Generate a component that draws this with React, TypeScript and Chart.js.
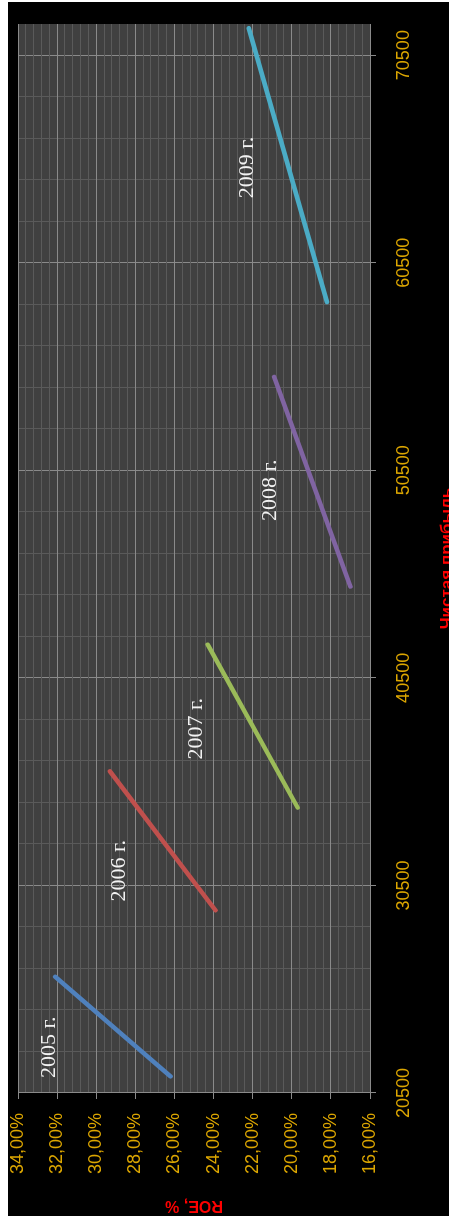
import React, { useEffect, useRef } from "react";
import { Chart, registerables } from "chart.js";

Chart.register(...registerables);

// Each year is drawn as a short line: ROE against net profit
const YEARS = ["2005 г.", "2006 г.", "2007 г.", "2008 г.", "2009 г."];
const PROFIT_FROM = [21300, 29300, 34250, 44900, 58600];
const ROE_FROM = [26.2, 23.9, 19.7, 17.0, 18.2];
const PROFIT_TO = [26100, 36000, 42100, 55000, 71800];
const ROE_TO = [32.1, 29.3, 24.3, 20.9, 22.2];

// Where each year's caption sits, in axis units (left edge, middle)
const CAPTION_PROFIT = [21220, 29720, 36570, 48060, 63600];
const CAPTION_ROE = [32.4, 28.8, 24.9, 21.1, 22.3];

// Axis ticks
const PROFIT_MAJOR = [20500, 30500, 40500, 50500, 60500, 70500];
const ROE_MAJOR = [16, 18, 20, 22, 24, 26, 28, 30, 32, 34];
const MINOR_PER_MAJOR = 5;

const X_TITLE = "Чистая прибыль";
const Y_TITLE = "ROE, %";

const LINE_COLORS = ["#4F81BD", "#C0504D", "#9BBB59", "#8064A2", "#4BACC6"];
const GOLD = "#dca600";
const RED = "#ff0000";
const PLOT_BG = "#404040";
const MAJOR_GRID = "rgb(138,138,138)";
const MINOR_GRID = "rgb(90,90,90)";

const CANVAS_W = 1214;
const CANVAS_H = 460;

function withMinor(major: number[]): number[] {
  const out: number[] = [];
  for (let i = 0; i < major.length - 1; i++) {
    const step = (major[i + 1] - major[i]) / MINOR_PER_MAJOR;
    for (let k = 0; k < MINOR_PER_MAJOR; k++) {
      out.push(Math.round((major[i] + step * k) * 1000) / 1000);
    }
  }
  out.push(major[major.length - 1]);
  return out;
}

const isMajorOf = (list: number[]) => (v: number) =>
  list.some((m) => Math.abs(m - v) < 1e-6);
const isProfitMajor = isMajorOf(PROFIT_MAJOR);
const isRoeMajor = isMajorOf(ROE_MAJOR);

const chrome = {
  id: "chrome",
  beforeDraw(chart: any) {
    const { ctx, chartArea: a } = chart;
    ctx.save();
    ctx.fillStyle = "#000";
    ctx.fillRect(0, 0, chart.width, chart.height);
    ctx.fillStyle = PLOT_BG;
    ctx.fillRect(a.left, a.top, a.right - a.left, a.bottom - a.top);
    ctx.restore();
  },
  afterDatasetsDraw(chart: any) {
    const { ctx } = chart;
    const xs = chart.scales.x;
    const ys = chart.scales.y;
    ctx.save();
    ctx.fillStyle = "#f2f2f2";
    ctx.font = '22px "Liberation Serif"';
    ctx.textAlign = "left";
    ctx.textBaseline = "middle";
    YEARS.forEach((t, i) => {
      ctx.fillText(
        t,
        xs.getPixelForValue(CAPTION_PROFIT[i]),
        ys.getPixelForValue(CAPTION_ROE[i])
      );
    });
    ctx.restore();
  },
  afterDraw(chart: any) {
    const { ctx, chartArea: a } = chart;
    ctx.save();
    ctx.fillStyle = RED;
    ctx.font = 'bold 16px "Liberation Sans"';
    ctx.textAlign = "center";
    ctx.textBaseline = "middle";
    ctx.translate(10.5, (a.top + a.bottom) / 2);
    ctx.rotate(-Math.PI / 2);
    ctx.fillText(Y_TITLE, 0, 0);
    ctx.restore();

    ctx.save();
    ctx.fillStyle = RED;
    ctx.font = 'bold 17px "Liberation Sans"';
    ctx.textAlign = "center";
    ctx.textBaseline = "alphabetic";
    ctx.fillText(X_TITLE, (a.left + a.right) / 2, 444);
    ctx.restore();
  },
};

export default function App() {
  const ref = useRef<HTMLCanvasElement | null>(null);

  useEffect(() => {
    if (!ref.current) return;

    const datasets: any[] = [];
    YEARS.forEach((year, i) => {
      const pts = [
        { x: PROFIT_FROM[i], y: ROE_FROM[i] },
        { x: PROFIT_TO[i], y: ROE_TO[i] },
      ];
      datasets.push({
        label: year,
        data: pts,
        showLine: true,
        borderColor: LINE_COLORS[i],
        backgroundColor: LINE_COLORS[i],
        borderWidth: 4.5,
        borderCapStyle: "round",
        pointRadius: 0,
      });
      // light speckle running along the stroke
      datasets.push({
        label: year + " ·",
        data: pts,
        showLine: true,
        borderColor: "rgba(255,255,255,0.35)",
        borderWidth: 1.5,
        borderDash: [1.5, 3],
        pointRadius: 0,
      });
    });

    const xTicks = withMinor(PROFIT_MAJOR);
    const yTicks = withMinor(ROE_MAJOR);

    const chart = new Chart(ref.current, {
      type: "scatter",
      data: { datasets },
      plugins: [chrome],
      options: {
        responsive: false,
        animation: false,
        devicePixelRatio: 1,
        layout: { padding: { top: 10, right: 22, left: 0, bottom: 0 } },
        plugins: {
          legend: { display: false },
          tooltip: { enabled: false },
        },
        scales: {
          x: {
            type: "linear",
            position: "bottom",
            min: 20500,
            max: 72000,
            afterBuildTicks: (s: any) => {
              s.ticks = xTicks.map((v) => ({ value: v }));
            },
            afterFit: (s: any) => {
              s.height = 98;
              s.paddingLeft = 0;
              s.paddingRight = 0;
            },
            border: { display: false },
            grid: {
              color: (c: any) =>
                c.tick && isProfitMajor(c.tick.value) ? MAJOR_GRID : MINOR_GRID,
              tickColor: (c: any) =>
                c.tick && isProfitMajor(c.tick.value) ? MAJOR_GRID : "rgba(0,0,0,0)",
              tickLength: 6,
              lineWidth: 1,
            },
            ticks: {
              autoSkip: false,
              minRotation: 0,
              maxRotation: 0,
              padding: 17,
              color: GOLD,
              font: { family: '"Liberation Sans"', size: 18 },
              callback: (v: any) => (isProfitMajor(Number(v)) ? String(v) : ""),
            },
          },
          y: {
            type: "linear",
            position: "left",
            min: 16,
            max: 34,
            afterBuildTicks: (s: any) => {
              s.ticks = yTicks.map((v) => ({ value: v }));
            },
            afterFit: (s: any) => {
              s.width = 123;
              s.paddingTop = 0;
              s.paddingBottom = 0;
            },
            border: { display: true, color: MAJOR_GRID, width: 1 },
            grid: {
              color: (c: any) =>
                c.tick && isRoeMajor(c.tick.value) ? MAJOR_GRID : MINOR_GRID,
              tickColor: (c: any) =>
                c.tick && isRoeMajor(c.tick.value) ? MAJOR_GRID : "rgba(0,0,0,0)",
              tickLength: 6,
              lineWidth: 1,
            },
            ticks: {
              autoSkip: false,
              padding: 14,
              color: GOLD,
              font: { family: '"Liberation Sans"', size: 18 },
              callback: (v: any) =>
                isRoeMajor(Number(v))
                  ? Number(v).toFixed(2).replace(".", ",") + "%"
                  : "",
            },
          },
        },
      },
    } as any);

    return () => chart.destroy();
  }, []);

  return (
    <div
      style={{
        position: "absolute",
        left: 0,
        top: 0,
        width: 449,
        height: 1218,
        overflow: "hidden",
        background: "#fff",
      }}
    >
      <div
        style={{
          position: "absolute",
          left: 0,
          top: 0,
          width: CANVAS_W,
          height: CANVAS_H,
          transformOrigin: "0 0",
          transform: "translate(8px, 1216px) rotate(-90deg)",
        }}
      >
        <canvas
          ref={ref}
          width={CANVAS_W}
          height={CANVAS_H}
          style={{ display: "block" }}
        />
      </div>
    </div>
  );
}
